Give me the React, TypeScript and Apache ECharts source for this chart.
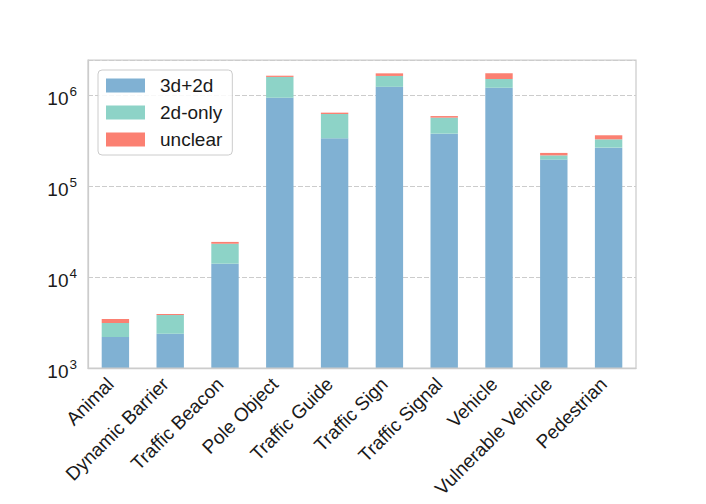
import React, { useEffect, useRef } from "react";
import * as echarts from "echarts";

const categories = [
  "Animal",
  "Dynamic Barrier",
  "Traffic Beacon",
  "Pole Object",
  "Traffic Guide",
  "Traffic Sign",
  "Traffic Signal",
  "Vehicle",
  "Vulnerable Vehicle",
  "Pedestrian",
];
const seriesNames = ["3d+2d", "2d-only", "unclear"];
const values3d2d = [2190, 2380, 14000, 933000, 334000, 1230000, 376000, 1200000, 195000, 264000];
const values2dOnly = [940, 1440, 9200, 647000, 284000, 390000, 188000, 300000, 22000, 62000];
const valuesUnclear = [320, 100, 1100, 50000, 22000, 110000, 23000, 230000, 14000, 35000];
const colors = ["#80b1d3", "#8dd3c7", "#fb8072"];

const FONT = "'Liberation Sans', Arial, sans-serif";

export default function App() {
  const ref = useRef<HTMLDivElement>(null);
  useEffect(() => {
    document.body.style.margin = "0";
    if (!ref.current) return;
    const chart = echarts.init(ref.current, null, { renderer: "svg" });
    const mk = (name: string, data: number[], color: string) => ({
      name,
      type: "bar",
      stack: "total",
      data,
      barWidth: "50%",
      clip: true,
      itemStyle: { color, borderWidth: 0 },
    });
    chart.setOption({
      animation: false,
      textStyle: { fontFamily: FONT },
      grid: { left: 88, top: 60, right: 70, bottom: 136, containLabel: false },
      legend: {
        left: 98,
        top: 70,
        orient: "vertical",
        data: seriesNames,
        icon: "rect",
        itemWidth: 39,
        itemHeight: 14,
        itemGap: 8,
        padding: [6, 10, 6, 8],
        backgroundColor: "rgba(255,255,255,0.85)",
        borderColor: "#cccccc",
        borderWidth: 1,
        borderRadius: 4,
        textStyle: {
          fontFamily: FONT,
          fontSize: 19,
          lineHeight: 19,
          color: "#1a1a1a",
          padding: [0, 0, 0, 10],
        },
      },
      xAxis: {
        type: "category",
        data: categories,
        axisLine: { show: true, lineStyle: { color: "#cccccc", width: 1.25 } },
        axisTick: { show: false },
        splitLine: { show: false },
        axisLabel: {
          interval: 0,
          rotate: 45,
          margin: 8,
          padding: [0, 7, 0, 0],
          fontFamily: FONT,
          fontSize: 19,
          color: "#1a1a1a",
        },
      },
      yAxis: {
        type: "log",
        logBase: 10,
        min: 1000,
        max: 2425000,
        axisLine: { show: true, lineStyle: { color: "#cccccc", width: 1.25 } },
        axisTick: { show: false },
        splitLine: {
          show: true,
          lineStyle: { color: "#cccccc", type: [5, 2], width: 1 },
        },
        axisLabel: {
          margin: 11,
          formatter: (v: number) => {
            const e = Math.log10(v);
            if (Math.abs(e - Math.round(e)) > 1e-6) return "";
            return `{b|10}{s|${Math.round(e)}}`;
          },
          rich: {
            b: { fontFamily: FONT, fontSize: 19, color: "#1a1a1a", padding: [7, 0, 0, 0] },
            s: { fontFamily: FONT, fontSize: 13.5, color: "#1a1a1a", padding: [0, 0, 8, 1] },
          },
        },
      },
      graphic: [
        {
          type: "rect",
          z: 100,
          silent: true,
          shape: { x: 88, y: 60, width: 548, height: 308 },
          style: { fill: "none", stroke: "#cccccc", lineWidth: 1.25 },
        },
      ],
      series: [
        mk(seriesNames[0], values3d2d, colors[0]),
        mk(seriesNames[1], values2dOnly, colors[1]),
        mk(seriesNames[2], valuesUnclear, colors[2]),
      ],
    });
    return () => chart.dispose();
  }, []);
  return <div ref={ref} style={{ width: 706, height: 504 }} />;
}
